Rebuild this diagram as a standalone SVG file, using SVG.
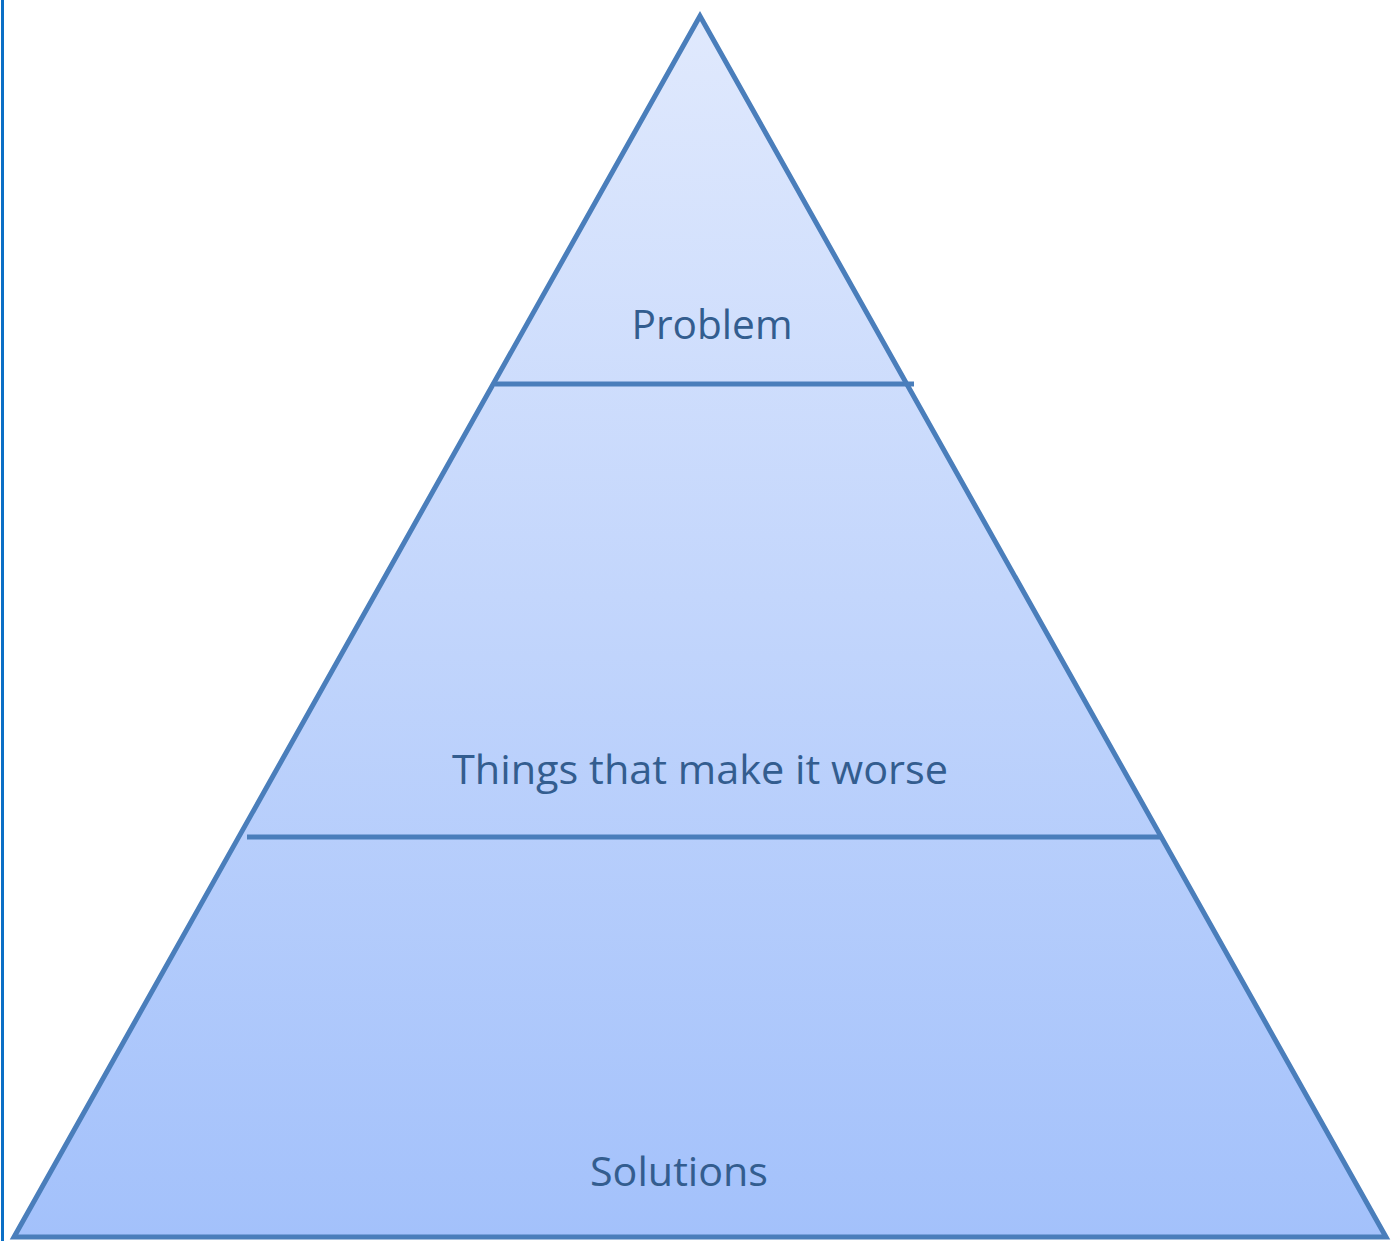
<svg xmlns="http://www.w3.org/2000/svg" width="1397" height="1241" viewBox="0 0 1397 1241">
<defs>
<linearGradient id="fillg" x1="0" y1="0" x2="0" y2="1">
<stop offset="0" stop-color="#e0e9fd"/>
<stop offset="1" stop-color="#a3c1fb"/>
</linearGradient>
<style>
.edge{stroke:#4a7ebb;stroke-width:5;fill:none;stroke-linejoin:miter}
.tri{stroke:#4a7ebb;stroke-width:5;fill:url(#fillg);stroke-linejoin:miter}
.lbl{font-family:"Open Sans","Noto Sans",sans-serif;font-size:40px;fill:#335d8f;text-anchor:middle}
</style>
</defs>
<rect width="1397" height="1241" fill="#ffffff"/>
<line x1="2.5" y1="0" x2="2.5" y2="1241" stroke="#0b6fc6" stroke-width="3"/>
<g id="pyramid">
<polygon class="tri" points="700,16 14,1237 1386,1237"/>
</g>
<g id="connectors">
<line class="edge" x1="495" y1="384" x2="914" y2="384"/>
<line class="edge" x1="247" y1="837" x2="1162" y2="837"/>
</g>
<g id="node-problem">
<text class="lbl" x="712" y="339" textLength="161" lengthAdjust="spacingAndGlyphs">Problem</text>
</g>
<g id="node-worse">
<text class="lbl" x="700" y="784" textLength="496" lengthAdjust="spacingAndGlyphs">Things that make it worse</text>
</g>
<g id="node-solutions">
<text class="lbl" x="679" y="1186" textLength="178" lengthAdjust="spacingAndGlyphs">Solutions</text>
</g>
</svg>
